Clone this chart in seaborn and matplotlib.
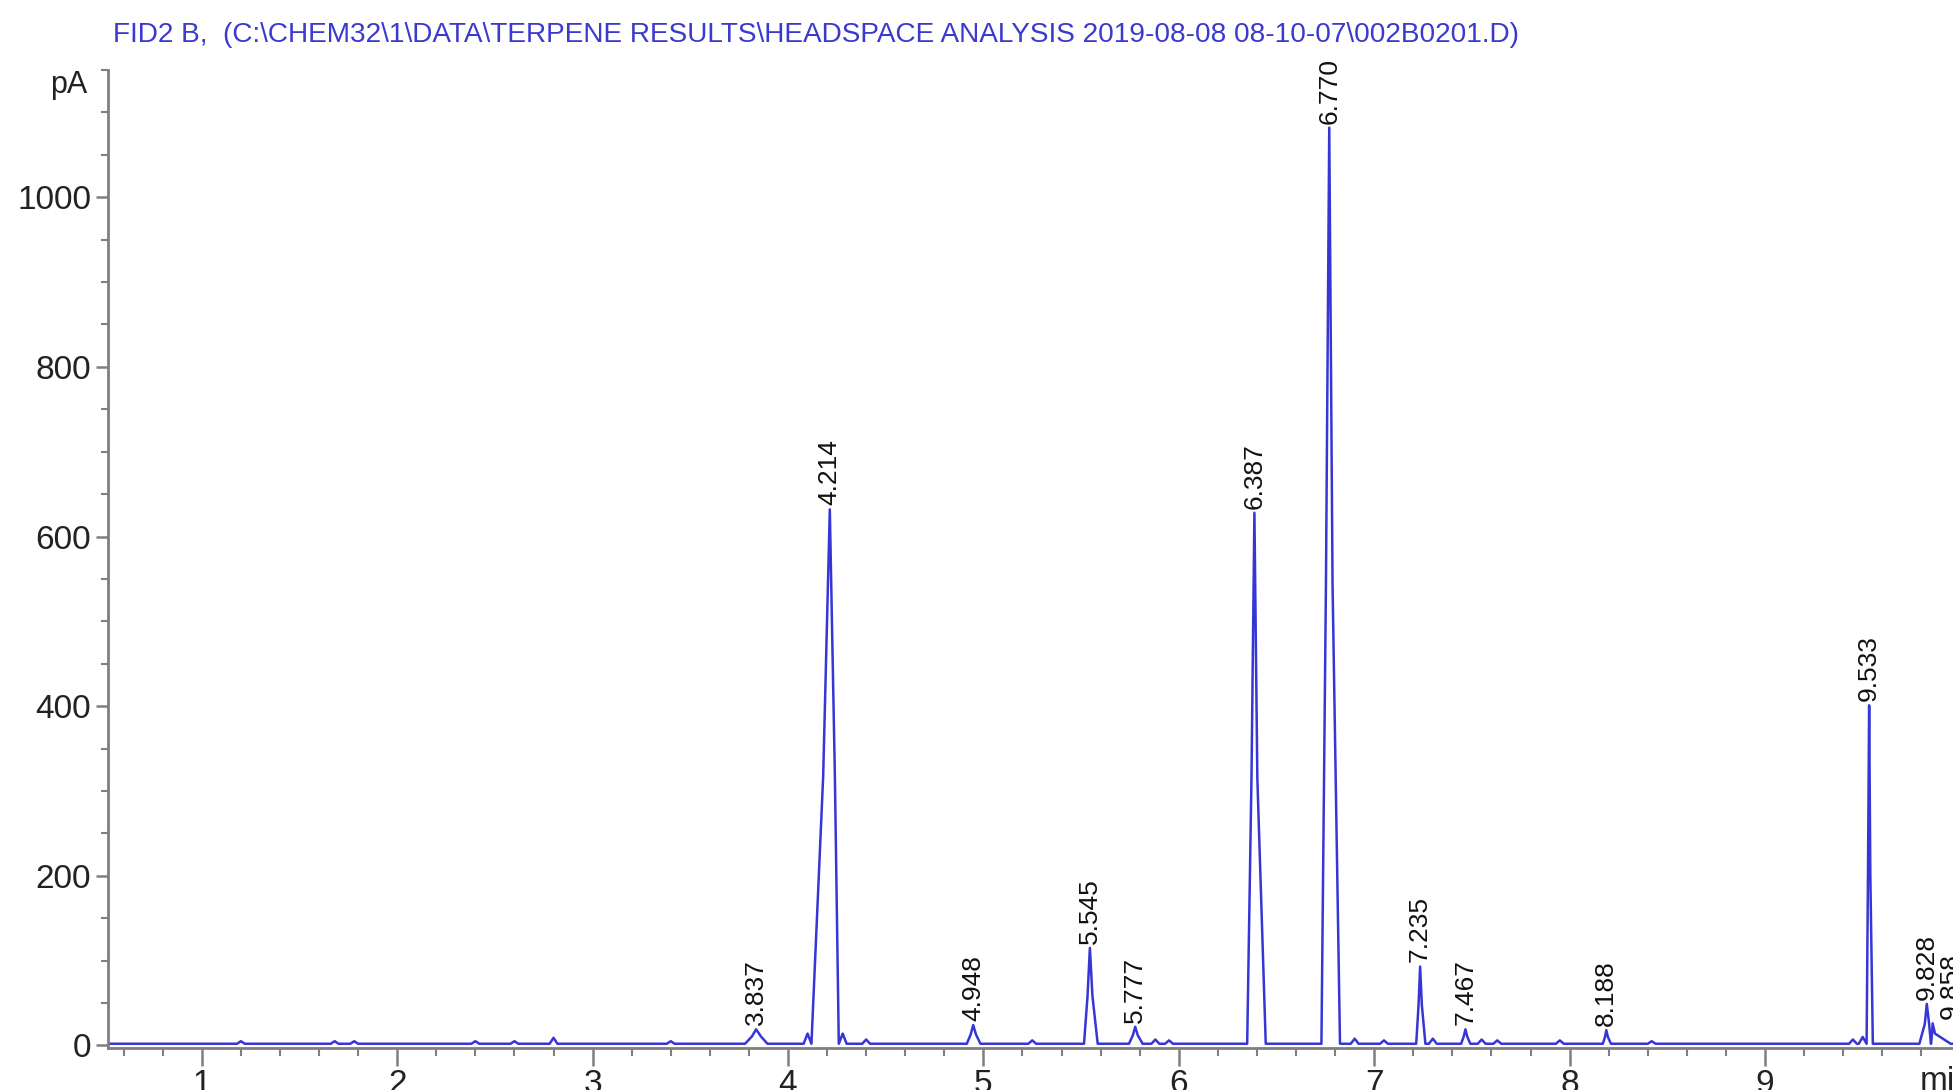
"""FID chromatogram, terpene headspace run"""
import numpy as np
import pandas as pd
import seaborn as sns
import matplotlib.pyplot as plt
from matplotlib.ticker import MultipleLocator

# labelled peaks: retention time (min), apex height (pA),
# and times: start, half height left/right, end
peak_rt = [3.837, 4.214, 4.948, 5.545, 5.777, 6.387, 6.770, 7.235, 7.467, 8.188, 9.533, 9.828, 9.858]
peak_height = [17, 630, 22, 113, 20, 626, 1080, 91, 17, 16, 399, 47, 24]
peak_start = [3.78, 4.12, 4.915, 5.515, 5.745, 6.35, 6.73, 7.215, 7.445, 8.17, 9.52, 9.79, 9.85]
peak_half_l = [3.815, 4.18, 4.935, 5.533, 5.765, 6.372, 6.753, 7.227, 7.458, 8.181, 9.527, 9.818, 9.855]
peak_half_r = [3.862, 4.24, 4.962, 5.558, 5.79, 6.402, 6.787, 7.244, 7.476, 8.196, 9.539, 9.84, 9.87]
peak_end = [3.895, 4.30, 4.985, 5.585, 5.815, 6.445, 6.825, 7.262, 7.492, 8.212, 9.552, 9.849, 9.95]
peak_label = ["3.837", "4.214", "4.948", "5.545", "5.777", "6.387", "6.770",
              "7.235", "7.467", "8.188", "9.533", "9.828", "9.858"]

# small unlabelled bumps on the baseline
bump_rt = [1.20, 1.68, 1.78, 2.40, 2.60, 2.80, 3.40, 4.10, 4.28, 4.40, 5.25,
           5.88, 5.95, 6.90, 7.05, 7.30, 7.55, 7.63, 7.95, 8.42, 9.45, 9.50]
bump_height = [3, 3, 3, 3, 3, 7, 3, 12, 12, 5, 4, 5, 4, 6, 4, 6, 5, 4, 4, 3, 5, 8]

baseline = 2
x_start, x_end = 0.52, 10.2
title = "FID2 B,  (C:\\CHEM32\\1\\DATA\\TERPENE RESULTS\\HEADSPACE ANALYSIS 2019-08-08 08-10-07\\002B0201.D)"

# build the trace from the vertices
verts = [(x_start, baseline), (x_end, baseline)]
for rt, h, s, hl, hr, e in zip(peak_rt, peak_height, peak_start, peak_half_l, peak_half_r, peak_end):
    verts += [(s, baseline), (hl, baseline + h / 2), (rt, baseline + h),
              (hr, baseline + h / 2), (e, baseline)]
for rt, h in zip(bump_rt, bump_height):
    verts += [(rt - 0.02, baseline), (rt, baseline + h), (rt + 0.02, baseline)]
trace = pd.DataFrame(verts, columns=["time", "pA"]).sort_values("time")

sns.set_theme(style="ticks")
plt.rcParams["font.family"] = ["Liberation Sans", "DejaVu Sans"]

W, H = 1953, 1090
px_per_min = 195.4
fig = plt.figure(figsize=(W / 100, H / 100), dpi=100)
ax = fig.add_axes([108 / W, 1 - 1048 / H, (x_end - x_start) * px_per_min / W, (1048 - 70) / H])

trace_color = "#3636d6"
sns.lineplot(data=trace, x="time", y="pA", sort=False, estimator=None,
             color=trace_color, linewidth=1.8, ax=ax)

ax.set_xlim(x_start, x_end)
ax.set_ylim(-3, 1150)
ax.xaxis.set_major_locator(MultipleLocator(1))
ax.xaxis.set_minor_locator(MultipleLocator(0.2))
ax.yaxis.set_major_locator(MultipleLocator(200))
ax.yaxis.set_minor_locator(MultipleLocator(50))
ax.set_xticks([1, 2, 3, 4, 5, 6, 7, 8, 9])
ax.set_xlabel("")
ax.set_ylabel("")

grey = "#7f7f7f"
for side in ["top", "right"]:
    ax.spines[side].set_visible(False)
for side in ["left", "bottom"]:
    ax.spines[side].set_color(grey)
    ax.spines[side].set_linewidth(2)
ax.tick_params(axis="x", which="major", length=13, width=1.8, color=grey, pad=2,
               labelsize=24, labelcolor="#222222")
ax.tick_params(axis="x", which="minor", length=6, width=1.5, color=grey)
ax.tick_params(axis="y", which="major", length=9, width=1.8, color=grey, pad=3,
               labelsize=24, labelcolor="#222222")
ax.tick_params(axis="y", which="minor", length=5, width=1.5, color=grey)

# retention time labels above each apex
for rt, h, lab in zip(peak_rt, peak_height, peak_label):
    dx = 13 if lab == "9.858" else 0
    ax.annotate(lab, xy=(rt, baseline + h), xytext=(dx, 3), textcoords="offset points",
                rotation=90, ha="center", va="bottom", fontsize=19, color="#111111")

ax.annotate("min", xy=(9.79, 0), xycoords=("data", "axes fraction"), xytext=(0, -33),
            textcoords="offset pixels", ha="left", va="center", fontsize=24, color="#222222",
            annotation_clip=False)

fig.text(50 / W, 1 - 85 / H, "pA", fontsize=22, color="#222222", ha="left", va="center")
fig.text(113 / W, 1 - 35 / H, title, fontsize=20.2, color="#3a3ad0", ha="left", va="center")

plt.savefig("out.png", dpi=100)
